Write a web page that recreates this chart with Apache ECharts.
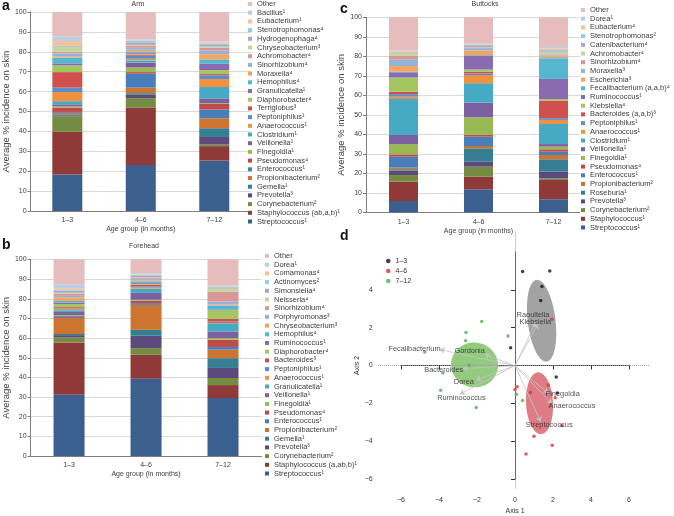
<!DOCTYPE html>
<html><head><meta charset="utf-8">
<script src="https://cdn.jsdelivr.net/npm/echarts@6/dist/echarts.min.js"></script>
<style>html,body{margin:0;padding:0;background:#fff}#c{width:674px;height:516px}</style>
</head><body><div id="c"></div>
<script>
// ---------- DATA ----------
const ageGroups = ['1–3', '4–6', '7–12'];

// Panel a: Arm (stack order bottom -> top)
const armTaxa = ['Streptococcus¹','Staphylococcus (ab,a,b)¹','Corynebacterium²','Prevotella³','Gemella¹','Propionibacterium²','Enterococcus¹','Pseudomonas⁴','Finegoldia¹','Veillonella¹','Clostridium¹','Anaerococcus¹','Peptoniphilus¹','Terriglobus³','Diaphorobacter⁴','Granulicatella¹','Hemophilus⁴','Moraxella⁴','Sinorhizobium⁴','Achromobacter⁴','Chryseobacterium³','Hydrogenophaga⁴','Stenotrophomonas⁴','Eubacterium¹','Bacillus¹','Other'];
const arm1to3  = [18.4,21.4,7.8,0.5,0.5,0.7,0.5,2.2,0.6,1.0,1.6,4.6,2.2,7.8,3.4,1.0,2.8,0.6,1.6,0.8,2.6,0.4,0.3,2.1,2.3,12.3];
const arm4to6  = [23.1,28.9,4.7,1.7,0.8,2.8,7.0,0.8,2.3,2.4,1.2,0.8,1.5,0.6,0.4,0.6,0.6,0.8,1.0,1.0,0.5,1.2,0.8,0.3,0.5,13.7];
const arm7to12 = [25.3,7.3,0.8,3.8,4.4,5.0,4.4,2.8,0.4,2.4,5.7,4.0,1.9,0.6,2.0,3.2,2.2,2.6,1.8,1.4,0.6,0.8,0.8,0.5,0.5,14.8];

// Panel b: Forehead
const foreheadTaxa = ['Streptococcus¹','Staphylococcus (a,ab,b)¹','Corynebacterium²','Prevotella³','Gemella¹','Propionibacterium²','Enterococcus¹','Pseudomonas⁴','Finegoldia¹','Veillonella¹','Granulicatella¹','Anaerococcus¹','Peptoniphilus¹','Bacteroides³','Diaphorobacter⁴','Ruminococcus¹','Hemophilus⁴','Chryseobacterium³','Porphyromonas³','Sinorhizobium⁴','Neisseria⁴','Simonsiella⁴','Actinomyces²','Comamonas⁴','Dorea¹','Other'];
const forehead1to3  = [31.2,26.6,2.5,1.2,0.6,8.1,0.6,0.4,0.5,1.6,0.9,0.8,0.4,0.4,1.5,0.8,0.8,1.8,0.8,1.0,0.6,1.0,0.6,0.7,2.0,12.6];
const forehead4to6  = [39.3,12.2,3.4,6.3,3.0,12.7,0.9,1.2,0.5,3.5,2.2,0.5,0.5,1.0,0.4,0.4,0.8,0.4,0.8,0.5,0.4,0.8,0.5,0.3,0.5,7.0];
const forehead7to12 = [29.5,6.6,3.6,5.1,5.0,4.3,1.4,3.7,0.8,3.4,3.8,0.5,0.7,1.4,4.4,0.4,2.0,0.5,1.5,5.0,1.6,0.4,0.4,0.4,0.4,13.2];

// Panel c: Buttocks
const buttocksTaxa = ['Streptococcus¹','Staphylococcus¹','Corynebacterium²','Prevotella³','Roseburia¹','Propionibacterium²','Enterococcus¹','Pseudomonas⁴','Finegoldia¹','Veillonella¹','Clostridium¹','Anaerococcus¹','Peptoniphilus¹','Bacteroides (a,a,b)³','Klebsiella⁴','Ruminococcus¹','Fecalibacterium (a,a,b)⁴','Escherichia³','Moraxella³','Sinorhizobium⁴','Achromobacter⁴','Catenibacterium⁴','Stenotrophomonas²','Eubacterium⁴','Dorea¹','Other'];
const buttocks1to3  = [5.8,9.9,3.4,2.3,0.7,0.8,5.6,1.2,5.3,4.7,18.4,1.2,1.3,1.3,7.2,2.7,0.4,2.8,3.5,1.7,1.7,0.3,0.2,0.2,0.2,17.2];
const buttocks4to6  = [11.8,6.5,5.1,2.6,6.8,1.2,4.8,0.9,9.0,7.5,10.0,4.2,0.8,0.8,1.2,7.0,0.4,2.4,1.2,0.4,0.2,0.5,0.7,0.2,0.2,13.6];
const buttocks7to12 = [6.7,9.9,0.8,3.5,6.3,2.2,1.7,1.2,1.4,1.3,10.3,2.1,0.9,9.0,0.8,10.3,10.6,0.8,0.6,0.6,1.0,0.6,0.6,0.8,0.8,15.2];

// Panel d: ordination
const pcoaGroups = ['1–3', '4–6', '7–12'];
const group1X = [0.40,1.83,1.42,1.35,-0.23,2.17,2.23];
const group1Y = [4.97,4.99,4.18,3.44,0.95,-0.60,-1.44];
const group2X = [1.95,0.11,0.00,0.81,1.75,2.12,2.47,1.00,1.96,0.58];
const group2Y = [2.45,-1.11,-1.25,-1.41,-1.02,-1.69,-3.15,-3.72,-4.20,-4.65];
const group3X = [-1.75,-2.58,-2.60,-0.37,-4.75,-2.42,-3.79,-3.91,-2.04,0.07,0.40];
const group3Y = [2.33,1.75,1.31,1.57,0.72,0.02,-0.39,-1.29,-2.20,-1.50,-1.83];

const ellipseCx = [1.40, 1.29, -2.13];
const ellipseCy = [2.37, -1.98, 0.04];
const ellipseRx = [0.73, 0.71, 1.24];
const ellipseRy = [2.17, 1.63, 1.18];
const ellipseAngle = [7, 3, -12];

const vectorNames = ['Raoultella','Klebsiella','Fecalibacterium','Gordonia','Bacteroides','Dorea','Ruminococcus','Finegoldia','Anaerococcus','Streptococcus'];
const vectorX = [1.10, 1.22, -3.95, -1.60, -2.75, -2.05, -2.90, 1.75, 1.95, 1.35];
const vectorY = [2.30, 2.20, 0.85, 0.60, -0.15, -0.75, -1.50, -1.45, -2.00, -2.95];
const labelX = [0.95, 1.07, -5.29, -2.39, -3.75, -2.69, -2.82, 2.51, 3.00, 1.80];
const labelY = [2.66, 2.32, 0.87, 0.79, -0.21, -0.84, -1.72, -1.51, -2.13, -3.14];

// ---------- STYLE ----------
const palette = ['#3B5F8E','#8F3A38','#748C41','#5D4A7C','#367E92','#CC7430',
  '#4A7EBB','#BE4B48','#98B954','#7D60A0','#46AAC5','#F0913F',
  '#5B8CCB','#CF504C','#A3C760','#8A6AB0','#55B6D0','#F7A45E',
  '#95B3D7','#D99694','#C3D69B','#B3A2C7','#93CDDD','#FAC090',
  '#B9CDE5','#E6BCBC'];
const groupColors = ['#111111','#E0303A','#4DAF4A'];
const ellipseColors = ['#A3A3A3','#DF7B84','#92CB7E'];
const FONT = "'Liberation Sans', Arial, Helvetica, sans-serif";
const TXT = '#404040';

const panels = [
  {key:'a', taxa: armTaxa, values:[arm1to3, arm4to6, arm7to12], barWidth:30, nameGap:16, legendBg:'transparent',
   grid:{left:25, top:12, width:226, height:199}, legend:{left:247, top:0}},
  {key:'b', taxa: foreheadTaxa, values:[forehead1to3, forehead4to6, forehead7to12], barWidth:31, nameGap:16, legendBg:'transparent',
   grid:{left:26, top:259.5, width:235.5, height:196.5}, legend:{left:264, top:252}},
  {key:'c', taxa: buttocksTaxa, values:[buttocks1to3, buttocks4to6, buttocks7to12], barWidth:29, nameGap:15, legendBg:'#ffffff',
   grid:{left:366, top:17.3, width:225, height:195}, legend:{left:580, top:6}}
];

const grids = [], xAxes = [], yAxes = [], series = [], legends = [];
panels.forEach((p, g) => {
  grids.push(Object.assign({containLabel:false}, p.grid));
  xAxes.push({gridIndex:g, type:'category', data:ageGroups,
    axisLine:{lineStyle:{color:'#7f7f7f'}}, axisTick:{length:3, lineStyle:{color:'#7f7f7f'}},
    axisLabel:{fontSize:7, color:TXT, margin:6, fontFamily:FONT},
    name:'Age group (in months)', nameLocation:'middle', nameGap:15,
    nameTextStyle:{fontSize:7, color:TXT, fontFamily:FONT}});
  yAxes.push({gridIndex:g, type:'value', min:0, max:100, interval:10,
    axisLine:{show:true, lineStyle:{color:'#7f7f7f'}}, axisTick:{show:true, length:3, lineStyle:{color:'#7f7f7f'}},
    axisLabel:{fontSize:7, color:TXT, margin:4, fontFamily:FONT},
    splitLine:{lineStyle:{color:'#D9D9D9'}},
    name:'Average % incidence on skin', nameLocation:'middle', nameGap:p.nameGap,
    nameTextStyle:{fontSize:9.5, color:TXT, fontFamily:FONT}});
  p.taxa.forEach((t, i) => {
    series.push({type:'bar', name:p.key+'|'+t, stack:p.key, xAxisIndex:g, yAxisIndex:g,
      barWidth:p.barWidth, data:p.values.map(v => v[i]),
      itemStyle:{color:palette[i]}, emphasis:{disabled:true}});
  });
  legends.push({orient:'vertical', left:p.legend.left, top:p.legend.top, padding:[0,2,0,1],
    itemWidth:4, itemHeight:4, itemGap:0.7, icon:'rect', selectedMode:false,
    backgroundColor:p.legendBg,
    data:p.taxa.slice().reverse().map(t => p.key+'|'+t),
    formatter: n => n.split('|')[1],
    textStyle:{fontSize:7.5, lineHeight:8, color:TXT, fontFamily:FONT}});
});

// Panel d grids: 3 = data region, 4 = axes
grids.push({left:378.2, top:231.6, width:271.7, height:256.8});
grids.push({left:401, top:251.9, width:228, height:227.6});
xAxes.push({gridIndex:3, type:'value', min:-7.2, max:7.1, show:false});
yAxes.push({gridIndex:3, type:'value', min:-6.47, max:7.07, show:false});
const minusFmt = v => (v < 0 ? '\u2212' + (-v) : String(v));
xAxes.push({gridIndex:4, type:'value', min:-6, max:6, interval:2, offset:10,
  axisLine:{lineStyle:{color:'#333'}}, axisTick:{length:4, lineStyle:{color:'#333'}},
  splitLine:{show:false}, axisLabel:{fontSize:7, color:'#333', margin:8, formatter:minusFmt, fontFamily:FONT},
  name:'Axis 1', nameLocation:'middle', nameGap:19, nameTextStyle:{fontSize:7, color:'#333', fontFamily:FONT}});
yAxes.push({gridIndex:4, type:'value', min:-6, max:6, interval:2, offset:23.3,
  axisLine:{show:true, lineStyle:{color:'#333'}}, axisTick:{show:true, length:4, lineStyle:{color:'#333'}},
  splitLine:{show:false}, axisLabel:{fontSize:7, color:'#333', margin:5, showMaxLabel:false, formatter:minusFmt, fontFamily:FONT},
  name:'Axis 2', nameLocation:'middle', nameGap:14, nameTextStyle:{fontSize:7, color:'#333', fontFamily:FONT}});

series.push({type:'custom', name:'ellipses', xAxisIndex:3, yAxisIndex:3, z:1, silent:true,
  data: ellipseCx.map((c, i) => [c, ellipseCy[i], ellipseRx[i], ellipseRy[i], ellipseAngle[i]]),
  renderItem: function (params, api) {
    const cx = api.value(0), cy = api.value(1), rx = api.value(2), ry = api.value(3);
    const a = api.value(4) * Math.PI / 180;
    const pts = [];
    for (let k = 0; k < 90; k++) {
      const t = k / 90 * 2 * Math.PI;
      const dx = rx * Math.cos(t), dy = ry * Math.sin(t);
      pts.push(api.coord([cx + dx * Math.cos(a) - dy * Math.sin(a), cy + dx * Math.sin(a) + dy * Math.cos(a)]));
    }
    return {type:'polygon', shape:{points:pts}, style:{fill:ellipseColors[params.dataIndex]}};
  },
  markLine:{silent:true, symbol:'none', label:{show:false},
    lineStyle:{color:'#9a9a9a', type:'dotted', width:1},
    data:[{xAxis:0}, {yAxis:0}]}
});
series.push({type:'lines', coordinateSystem:'cartesian2d', xAxisIndex:3, yAxisIndex:3, z:3, silent:true,
  symbol:['none','arrow'], symbolSize:5,
  lineStyle:{color:'#C4C4C4', width:0.8, opacity:1},
  data: vectorNames.map((n, i) => ({coords:[[0, 0], [vectorX[i], vectorY[i]]]}))});
const groupXs = [group1X, group2X, group3X], groupYs = [group1Y, group2Y, group3Y];
pcoaGroups.forEach((gname, gi) => {
  series.push({type:'scatter', name:gname, xAxisIndex:3, yAxisIndex:3, z:4, symbolSize:3.5,
    itemStyle:{color:groupColors[gi]}, emphasis:{disabled:true},
    data: groupXs[gi].map((x, i) => [x, groupYs[gi][i]])});
});
series.push({type:'scatter', name:'taxa', xAxisIndex:3, yAxisIndex:3, z:5, symbolSize:1, silent:true,
  itemStyle:{color:'rgba(0,0,0,0)'},
  label:{show:true, position:'inside', fontSize:7.4, color:'#262626', fontFamily:FONT, formatter: p => p.data[2]},
  data: vectorNames.map((n, i) => [labelX[i], labelY[i], n])});
legends.push({orient:'vertical', left:386, top:257, padding:0, itemWidth:4.5, itemHeight:4.5, itemGap:2,
  icon:'circle', selectedMode:false, data:pcoaGroups,
  textStyle:{fontSize:7, lineHeight:8, color:'#333', fontFamily:FONT}});

const titleStyle = {fontSize:7, fontWeight:'normal', color:TXT, fontFamily:FONT};
const letterStyle = {fontSize:14, fontWeight:'bold', color:'#111', fontFamily:FONT};
const titles = [
  {text:'Arm', left:138, top:1, textAlign:'center', padding:0, textStyle:titleStyle},
  {text:'Forehead', left:144, top:243, textAlign:'center', padding:0, textStyle:titleStyle},
  {text:'Buttocks', left:485, top:1, textAlign:'center', padding:0, textStyle:titleStyle},
  {text:'a', left:2, top:-1, padding:0, textStyle:letterStyle},
  {text:'b', left:2, top:238, padding:0, textStyle:letterStyle},
  {text:'c', left:340, top:2, padding:0, textStyle:letterStyle},
  {text:'d', left:340, top:229, padding:0, textStyle:letterStyle}
];

const chart = echarts.init(document.getElementById('c'), null, {renderer:'canvas'});
chart.setOption({
  animation:false,
  backgroundColor:'#ffffff',
  textStyle:{fontFamily:FONT},
  title:titles,
  grid:grids,
  xAxis:xAxes,
  yAxis:yAxes,
  legend:legends,
  series:series
});
</script>
</body></html>
